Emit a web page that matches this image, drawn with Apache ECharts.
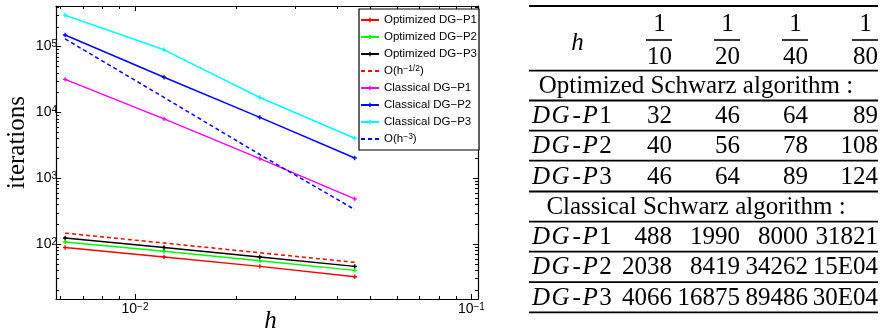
<!DOCTYPE html>
<html><head><meta charset="utf-8">
<script src="https://cdn.jsdelivr.net/npm/echarts@6/dist/echarts.min.js"></script>
<style>html,body{margin:0;padding:0;background:#fff}#c{width:883px;height:333px}</style>
</head><body><div id="c"></div>
<script>
// ---------- plot data ----------
const hValues      = [0.0062, 0.0122, 0.0235, 0.045];
const optimizedP1  = [89, 64, 46, 32];
const optimizedP2  = [108, 78, 56, 40];
const optimizedP3  = [124, 89, 64, 46];
const refHalf      = [147, 104, 74, 53];        // O(h^-1/2)
const classicalP1  = [31821, 8000, 1990, 488];
const classicalP2  = [150000, 34262, 8419, 2038];
const classicalP3  = [300000, 89486, 16875, 4066];
const refCube      = [131000, 16900, 2300, 335]; // O(h^-3)
const seriesNames  = ['Optimized DG−P1','Optimized DG−P2','Optimized DG−P3','O(h^{−1/2})',
                      'Classical DG−P1','Classical DG−P2','Classical DG−P3','O(h^{−3})'];
const xTickExps    = [-2, -1];
const yTickExps    = [2, 3, 4, 5];

// ---------- table data ----------
const tableHeaderLabel = 'h';
const tableNumerators  = ['1', '1', '1', '1'];
const tableDenominators= ['10', '20', '40', '80'];
const sectionTitles    = ['Optimized Schwarz algorithm :', 'Classical Schwarz algorithm :'];
const rowLabels        = ['DG-P1', 'DG-P2', 'DG-P3'];
const optimizedTable   = [['32','46','64','89'], ['40','56','78','108'], ['46','64','89','124']];
const classicalTable   = [['488','1990','8000','31821'], ['2038','8419','34262','15E04'], ['4066','16875','89486','30E04']];

// ---------- styling / layout ----------
const seriesData = [optimizedP1, optimizedP2, optimizedP3, refHalf, classicalP1, classicalP2, classicalP3, refCube];
const colors  = ['#ff0000','#00ff00','#000000','#ff0000','#ff00ff','#0000ff','#00ffff','#0000ff'];
const dashed  = [false,false,false,true,false,false,false,true];
const plusPath  = 'path://M0,0M10,10M4.4,3H5.6V4.4H7V5.6H5.6V7H4.4V5.6H3V4.4H4.4Z';
const emptyPath = 'path://M0,0M10,10';

function expLabel(exps) {
  return function (v) {
    const l = Math.log10(v), e = Math.round(l);
    if (Math.abs(l - e) > 1e-6 || exps.indexOf(e) < 0) return '';
    return '{b|10}{s|' + (e < 0 ? '−' + (-e) : e) + '}';
  };
}
const tickRich = {
  b: {fontSize: 14, lineHeight: 14, fontFamily: 'Liberation Sans', color: '#000', padding: [4,0,4,0]},
  s: {fontSize: 10, lineHeight: 10, fontFamily: 'Liberation Sans', color: '#000', verticalAlign: 'top'}
};
const axLine = {show: true, onZero: false, lineStyle: {color: '#000', width: 1.2}};
const axTick = {show: true, inside: true, length: 5, lineStyle: {color: '#000', width: 1}};
const axMinor = {show: true, splitNumber: 9, length: 3, lineStyle: {color: '#000', width: 1}};
const xMin = 0.005825, xMax = 0.1046, yMin = 14.7, yMax = 414000;

const series = seriesData.map((vals, i) => ({
  name: seriesNames[i],
  type: 'line',
  data: hValues.map((h, k) => [h, vals[k]]),
  symbol: dashed[i] ? emptyPath : plusPath,
  symbolSize: 11,
  showSymbol: !dashed[i],
  lineStyle: {color: colors[i], width: 1.5, type: dashed[i] ? [4, 3] : 'solid'},
  itemStyle: {color: colors[i]},
  emphasis: {disabled: true},
  silent: true,
  z: 2 + i
}));

// ---------- table drawing ----------
const tblX0 = 529, tblX1 = 878;
const ruleYs = [6, 70.7, 100.5, 130.7, 160.7, 191.5, 221.7, 251.7, 282.1, 312.3];
const colRight = [672, 740, 808, 878];
const serif = 'Liberation Serif';
const fs = 25;
const g = [];
ruleYs.forEach(y => g.push({type: 'line', silent: true, shape: {x1: tblX0, y1: y, x2: tblX1, y2: y}, style: {stroke: '#000', lineWidth: 1.8}}));
function txt(text, x, y, align, extra) {
  return {type: 'text', silent: true, style: Object.assign({text: text, x: x, y: y, align: align, verticalAlign: 'middle',
    fontFamily: serif, fontSize: fs, fill: '#000'}, extra || {})};
}
g.push(txt(tableHeaderLabel, 577.5, 43, 'center', {fontStyle: 'italic'}));
tableDenominators.forEach((d, j) => {
  const cx = colRight[j] - 12.5;
  g.push(txt(tableNumerators[j], cx, 24, 'center'));
  g.push({type: 'line', silent: true, shape: {x1: colRight[j] - 26, y1: 40, x2: colRight[j], y2: 40}, style: {stroke: '#000', lineWidth: 1.6}});
  g.push(txt(d, colRight[j], 57, 'right'));
});
const rowCenter = i => (ruleYs[i] + ruleYs[i + 1]) / 2;
const labelRich = {
  it: {fontFamily: serif, fontSize: fs, fontStyle: 'italic', padding: [0,1.5,0,0]},
  hy: {fontFamily: serif, fontSize: fs, fontStyle: 'italic', padding: [0,1.5,0,1.5]},
  up: {fontFamily: serif, fontSize: fs}
};
function richLabel(l) {
  return l.split('').map(ch => '{' + (ch === '-' ? 'hy' : (/\d/.test(ch) ? 'up' : 'it')) + '|' + ch + '}').join('');
}
[[optimizedTable, 1], [classicalTable, 5]].forEach(([tbl, start], s) => {
  g.push(txt(sectionTitles[s], 696, rowCenter(start) + 1, 'center'));
  tbl.forEach((row, r) => {
    const cy = rowCenter(start + 1 + r) + 1;
    g.push(txt(richLabel(rowLabels[r]), 532, cy, 'left', {rich: labelRich}));
    row.forEach((v, j) => g.push(txt(v, colRight[j], cy, 'right')));
  });
});

const chart = echarts.init(document.getElementById('c'), null, {renderer: 'canvas'});
chart.setOption({
  animation: false,
  backgroundColor: '#fff',
  grid: {left: 56, top: 6, width: 422, height: 293, containLabel: false, outerBoundsMode: 'none'},
  xAxis: [
    {type: 'log', logBase: 10, min: xMin, max: xMax, position: 'bottom',
     axisLine: axLine, axisTick: axTick, minorTick: axMinor, splitLine: {show: false},
     axisLabel: {formatter: expLabel(xTickExps), rich: tickRich, margin: 3},
     name: 'h', nameLocation: 'middle', nameGap: 10, nameMoveOverlap: false,
     nameTextStyle: {fontFamily: serif, fontStyle: 'italic', fontSize: 25, color: '#000', verticalAlign: 'top', padding: [0,0,0,7]}},
    {type: 'log', logBase: 10, min: xMin, max: xMax, position: 'top',
     axisLine: axLine, axisTick: axTick, minorTick: axMinor, splitLine: {show: false}, axisLabel: {show: false}}
  ],
  yAxis: [
    {type: 'log', logBase: 10, min: yMin, max: yMax, position: 'left',
     axisLine: axLine, axisTick: axTick, minorTick: axMinor, splitLine: {show: false},
     axisLabel: {formatter: expLabel(yTickExps), rich: tickRich, margin: -1},
     name: 'iterations', nameLocation: 'middle', nameGap: 26, nameMoveOverlap: false,
     nameTextStyle: {fontFamily: serif, fontSize: 25, color: '#000', padding: [0,0,0,20]}},
    {type: 'log', logBase: 10, min: yMin, max: yMax, position: 'right',
     axisLine: axLine, axisTick: axTick, minorTick: axMinor, splitLine: {show: false}, axisLabel: {show: false}}
  ],
  legend: {
    show: true, orient: 'vertical', left: 359, top: 9,
    data: seriesNames,
    selectedMode: false,
    itemWidth: 18, itemHeight: 14, itemGap: 3,
    padding: [4, 2, 4, 1],
    backgroundColor: '#fff', borderColor: '#000', borderWidth: 1.2, borderRadius: 0,
    formatter: name => name.replace(/\^\{(.+?)\}/, '{sup|$1}'),
    textStyle: {fontFamily: 'Liberation Sans', fontSize: 11.5, lineHeight: 14, color: '#000',
      rich: {sup: {fontFamily: 'Liberation Sans', fontSize: 8.5, lineHeight: 8, verticalAlign: 'top', color: '#000'}}}
  },
  tooltip: {show: false},
  series: series,
  graphic: {elements: g}
});
</script></body></html>
